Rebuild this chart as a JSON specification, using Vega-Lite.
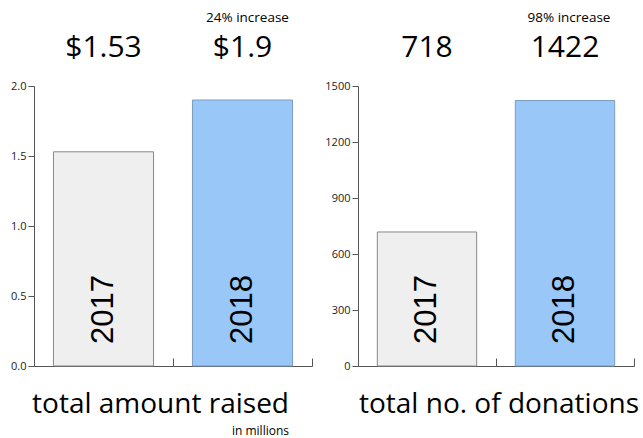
{
  "$schema": "https://vega.github.io/schema/vega-lite/v6.json",
  "background": "white",
  "padding": {"left": 10, "top": 11, "right": 5, "bottom": 5},
  "spacing": 46,
  "bounds": "flush",
  "config": {
    "view": {"stroke": null},
    "font": "Open Sans",
    "axis": {"domainColor": "#555", "tickColor": "#555", "labelColor": "#222", "labelFont": "Open Sans", "labelFontSize": 11, "grid": false}
  },
  "datasets": {
    "amount": [
      {"year": "2017", "value": 1.53, "label": "$1.53", "note": ""},
      {"year": "2018", "value": 1.9, "label": "$1.9", "note": "24% increase"}
    ],
    "donations": [
      {"year": "2017", "value": 718, "label": "718", "note": ""},
      {"year": "2018", "value": 1422, "label": "1422", "note": "98% increase"}
    ]
  },
  "hconcat": [
    {
      "width": 278,
      "height": 280,
      "data": {"name": "amount"},
      "title": {"text": "total amount raised", "subtitle": "in millions", "orient": "bottom", "anchor": "end", "frame": "group", "dx": -23, "fontSize": 28, "fontWeight": "normal", "subtitleFontSize": 12, "subtitleColor": "#000", "color": "#000", "offset": 20, "subtitlePadding": 7, "font": "Open Sans", "subtitleFont": "Open Sans"},
      "encoding": {
        "x": {"field": "year", "type": "nominal", "scale": {"paddingInner": 0, "paddingOuter": 0}, "axis": {"title": null, "labels": false, "tickBand": "extent", "tickSize": -8, "domainColor": "#555"}}
      },
      "layer": [
        {
          "mark": {"type": "bar", "width": {"band": 0.72}, "strokeWidth": 1},
          "encoding": {
            "y": {"field": "value", "type": "quantitative", "scale": {"domain": [0, 2], "nice": false}, "axis": {"title": null, "values": [0, 0.5, 1, 1.5, 2], "format": ".1f", "tickSize": 6}},
            "fill": {"field": "year", "type": "nominal", "scale": {"range": ["#efefef", "#99c8f8"]}, "legend": null},
            "stroke": {"field": "year", "type": "nominal", "scale": {"range": ["#888888", "#7a9cc0"]}, "legend": null}
          }
        },
        {
          "mark": {"type": "text", "angle": -90, "align": "left", "baseline": "middle", "dx": 22, "fontSize": 31, "font": "Liberation Sans", "color": "#000"},
          "encoding": {"y": {"datum": 0}, "text": {"field": "year"}}
        },
        {
          "mark": {"type": "text", "baseline": "middle", "dy": -38, "fontSize": 30, "color": "#000"},
          "encoding": {"y": {"datum": 2}, "text": {"field": "label"}}
        },
        {
          "mark": {"type": "text", "baseline": "middle", "dy": -68, "dx": 5, "fontSize": 13.5, "color": "#000"},
          "encoding": {"y": {"datum": 2}, "text": {"field": "note"}}
        }
      ]
    },
    {
      "width": 276,
      "height": 280,
      "data": {"name": "donations"},
      "title": {"text": "total no. of donations", "orient": "bottom", "anchor": "start", "frame": "group", "dx": 1, "fontSize": 28, "fontWeight": "normal", "color": "#000", "offset": 20, "font": "Open Sans"},
      "encoding": {
        "x": {"field": "year", "type": "nominal", "scale": {"paddingInner": 0, "paddingOuter": 0}, "axis": {"title": null, "labels": false, "tickBand": "extent", "tickSize": -8, "domainColor": "#555"}}
      },
      "layer": [
        {
          "mark": {"type": "bar", "width": {"band": 0.72}, "strokeWidth": 1},
          "encoding": {
            "y": {"field": "value", "type": "quantitative", "scale": {"domain": [0, 1500], "nice": false}, "axis": {"title": null, "values": [0, 300, 600, 900, 1200, 1500], "format": "d", "tickSize": 6}},
            "fill": {"field": "year", "type": "nominal", "scale": {"range": ["#efefef", "#99c8f8"]}, "legend": null},
            "stroke": {"field": "year", "type": "nominal", "scale": {"range": ["#888888", "#7a9cc0"]}, "legend": null}
          }
        },
        {
          "mark": {"type": "text", "angle": -90, "align": "left", "baseline": "middle", "dx": 22, "fontSize": 31, "font": "Liberation Sans", "color": "#000"},
          "encoding": {"y": {"datum": 0}, "text": {"field": "year"}}
        },
        {
          "mark": {"type": "text", "baseline": "middle", "dy": -38, "fontSize": 30, "color": "#000"},
          "encoding": {"y": {"datum": 1500}, "text": {"field": "label"}}
        },
        {
          "mark": {"type": "text", "baseline": "middle", "dy": -68, "dx": 4, "fontSize": 13.5, "color": "#000"},
          "encoding": {"y": {"datum": 1500}, "text": {"field": "note"}}
        }
      ]
    }
  ]
}
